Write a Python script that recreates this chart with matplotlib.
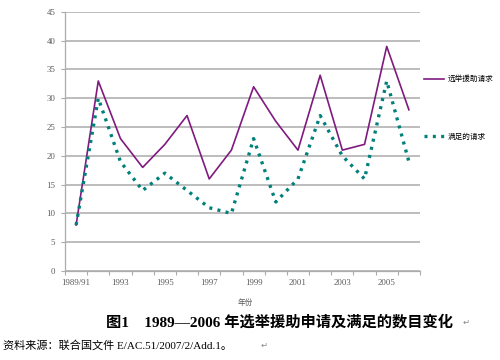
import matplotlib
matplotlib.use('Agg')
import matplotlib.pyplot as plt
import numpy as np

plt.rcParams['font.family'] = ['Noto Sans CJK SC', 'DejaVu Sans']

# data
years = ['1989/91', '1992', '1993', '1994', '1995', '1996', '1997', '1998',
         '1999', '2000', '2001', '2002', '2003', '2004', '2005', '2006']
requests = [8, 33, 23, 18, 22, 27, 16, 21, 32, 26, 21, 34, 21, 22, 39, 28]
satisfied = [8, 30, 19, 14, 17, 14, 11, 10, 23, 12, 16, 27, 20, 16, 33, 19]
yticks = list(range(0, 50, 5))

purple = '#7f1a7f'
teal = '#00807a'
gray = '#ababab'
txtgray = '#595959'
latin = ['Liberation Serif', 'Noto Sans CJK SC', 'DejaVu Sans']

fig = plt.figure(figsize=(5, 3.6), dpi=100)
ax = fig.add_axes([0.13, 0.247, 0.71, 0.72])

x = np.arange(len(years))
l1, = ax.plot(x, requests, color=purple, lw=1.2, label='选举援助请求')
l2, = ax.plot(x, satisfied, color=teal, lw=2.4, linestyle=(0, (0.9, 1.6)),
              label='满足的请求')

ax.set_xlim(-0.5, len(years) - 0.5)
ax.set_ylim(0, 45)
ax.set_yticks(yticks)
ax.yaxis.grid(True, color=gray, lw=1.1, zorder=0)
ax.set_axisbelow(True)

# category boundary ticks, labels every second year
ax.set_xticks(np.arange(-0.5, len(years), 1))
ax.set_xticklabels([])
ax.set_xticks(x[::2], minor=True)
ax.set_xticklabels(years[::2], minor=True)
ax.tick_params(axis='x', which='major', length=3, color=gray, width=0.8)
ax.tick_params(axis='x', which='minor', length=0, pad=6)
ax.tick_params(axis='y', length=3, color=gray, width=0.8, pad=4)
for lab in ax.get_xticklabels(minor=True) + ax.get_yticklabels():
    lab.set_fontsize(6.3)
    lab.set_color(txtgray)
    lab.set_family(latin)

for s in ['top', 'right']:
    ax.spines[s].set_visible(False)
for s in ['left', 'bottom']:
    ax.spines[s].set_color(gray)
    ax.spines[s].set_linewidth(0.9)

# legend entries on the right, spaced apart like the reference
fig.legend(handles=[l1], loc='upper left', bbox_to_anchor=(0.835, 0.81),
           frameon=False, fontsize=5.5, handlelength=2.6, handletextpad=0.5)
fig.legend(handles=[l2], loc='upper left', bbox_to_anchor=(0.835, 0.65),
           frameon=False, fontsize=5.5, handlelength=2.6, handletextpad=0.5)

fig.text(0.49, 0.158, '年份', fontsize=5.5, color=txtgray, ha='center', va='center')

fig.text(0.212, 0.105, '图1　1989—2006 年选举援助申请及满足的数目变化',
         fontsize=11, fontweight='bold', ha='left', va='center', family=latin)
fig.text(0.925, 0.105, '↵', fontsize=6, color='#888888', ha='left', va='center',
         family=['DejaVu Sans'])

fig.text(0.006, 0.04, '资料来源：联合国文件 E/AC.51/2007/2/Add.1。',
         fontsize=8, ha='left', va='center', family=latin)
fig.text(0.522, 0.04, '↵', fontsize=6, color='#888888', ha='left', va='center',
         family=['DejaVu Sans'])

fig.savefig('out.png', dpi=100)
